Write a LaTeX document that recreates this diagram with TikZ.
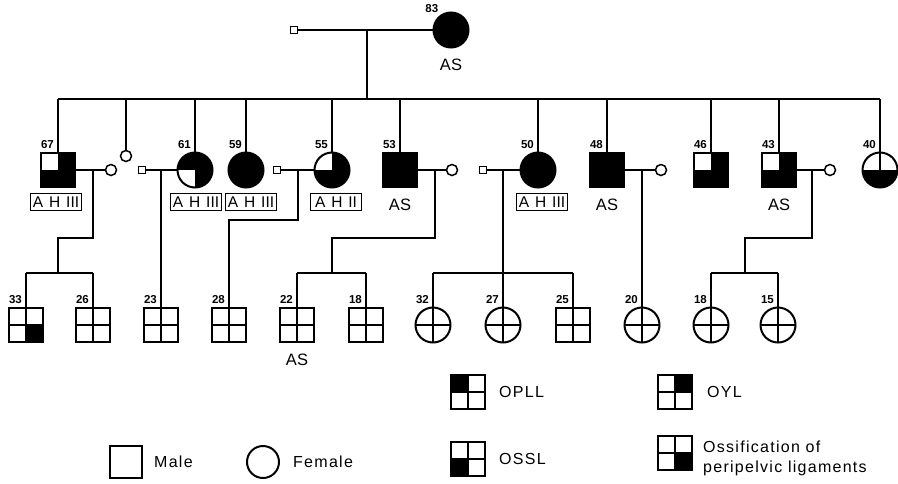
\documentclass[tikz,border=0pt]{standalone}
\usepackage{fontspec}
\setmainfont{Liberation Sans}
\usetikzlibrary{positioning}

\tikzset{
  link/.style={line width=2.4pt},
  male/.style={draw, rectangle, minimum size=34pt, inner sep=0pt, line width=2pt},
  female/.style={draw, circle, minimum size=35pt, inner sep=0pt, line width=2pt},
  smale/.style={draw, rectangle, minimum size=7pt, inner sep=0pt, line width=1.5pt},
  sfemale/.style={draw, circle, minimum size=11pt, inner sep=0pt, line width=1.5pt},
  cross/.style={path picture={
      \fill (path picture bounding box.center) rectangle (path picture bounding box.#1);
      \draw[line width=1.8pt] (path picture bounding box.north) -- (path picture bounding box.south)
        (path picture bounding box.west) -- (path picture bounding box.east);}},
  cross/.default=center,
  hole/.style={fill=black, path picture={
      \fill[white] (path picture bounding box.center) rectangle (path picture bounding box.#1);}},
  halfblk/.style={path picture={
      \fill (path picture bounding box.west) rectangle (path picture bounding box.south east);
      \draw[line width=1.8pt] (path picture bounding box.center) -- (path picture bounding box.north);}},
  age/.style={font=\fontsize{11.5}{11.5}\selectfont\bfseries, inner sep=0pt, anchor=south east},
  note/.style={font=\fontsize{16.5}{16.5}\selectfont, inner sep=1pt},
  ahbox/.style={draw, line width=1.5pt, font={\fontsize{15.5}{15.5}\selectfont\spaceskip=0.38em\relax},
    minimum width=51pt, minimum height=17pt, inner sep=0.5pt},
  key/.style={font={\fontsize{16}{20}\selectfont\addfontfeature{LetterSpace=8}}, inner sep=0pt, align=left}
}

\begin{document}
\begin{tikzpicture}[x=1pt,y=-1pt]
  \useasboundingbox (0,0) rectangle (898,483);
  % first generation
  \node[smale] (f0) at (294,30) {};
  \node[female, fill=black] (p83) at (451,30) {};
  \node[age] (l83) at ([xshift=-2pt,yshift=2pt]p83.125) {83};
  \node[note, below=9pt of p83] (as83) {AS};
  \draw[link] (f0) -- (p83);
  \coordinate (m0) at (367,30);
  \coordinate (s1) at (367,99);
  \draw[link] (m0) -- (s1);

  % second generation
  \node[male, hole=north west] (p67) at (58,170) {};
  \node[sfemale] (w67) at (111,170) {};
  \node[sfemale] (d2) at (126,156) {};
  \node[smale] (h61) at (142,170) {};
  \node[female, hole=south west] (p61) at (195,170) {};
  \node[female, fill=black] (p59) at (246,170) {};
  \node[smale] (h55) at (277,170) {};
  \node[female, hole=north west] (p55) at (332,170) {};
  \node[male, fill=black] (p53) at (400,170) {};
  \node[sfemale] (w53) at (452,170) {};
  \node[smale] (h50) at (483,170) {};
  \node[female, fill=black] (p50) at (538,170) {};
  \node[male, fill=black] (p48) at (607,170) {};
  \node[sfemale] (w48) at (661,170) {};
  \node[male, hole=north west] (p46) at (711,170) {};
  \node[male, hole=north west] (p43) at (779,170) {};
  \node[sfemale] (w43) at (830,170) {};
  \node[female, halfblk] (p40) at (880,170) {};

  \draw[link] (p67 |- s1) -- (p40 |- s1);
  \foreach \n in {p67,d2,p61,p59,p55,p53,p50,p48,p46,p43,p40}
    \draw[link] (\n |- s1) -- (\n);
  % couples
  \draw[link] (p67) -- (w67);
  \draw[link] (h61) -- (p61);
  \draw[link] (h55) -- (p55);
  \draw[link] (p53) -- (w53);
  \draw[link] (h50) -- (p50);
  \draw[link] (p48) -- (w48);
  \draw[link] (p43) -- (w43);

  \node[ahbox] (ah67) at (56,202) {A H III};
  \node[ahbox] (ah61) at (196,202) {A H III};
  \node[ahbox] (ah59) at (251,202) {A H III};
  \node[ahbox] (ah55) at (336,202) {A H II};
  \node[ahbox] (ah50) at (542,202) {A H III};
  \node[note, below=10pt of p53] (as53) {AS};
  \node[note, below=10pt of p48] (as48) {AS};
  \node[note, below=10pt of p43] (as43) {AS};

  % third generation
  \node[male, cross=south east] (c33) at (26,325) {};
  \node[male, cross] (c26) at (93,325) {};
  \node[male, cross] (c23) at (161,325) {};
  \node[male, cross] (c28) at (229,325) {};
  \node[male, cross] (c22) at (297,325) {};
  \node[male, cross] (c18) at (366,325) {};
  \node[female, cross] (c32) at (433,325) {};
  \node[female, cross] (c27) at (503,325) {};
  \node[male, cross] (c25) at (573,325) {};
  \node[female, cross] (c20) at (642,325) {};
  \node[female, cross] (c18b) at (711,325) {};
  \node[female, cross] (c15) at (778,325) {};
  \node[note, below=10pt of c22] (as22) {AS};

  \foreach \n/\a in {p67/67,p61/61,p59/59,p55/55,p53/53,p50/50,p48/48,p46/46,p43/43,p40/40,
      c33/33,c26/26,c23/23,c28/28,c22/22,c18/18,c32/32,c27/27,c25/25,c20/20,c18b/18,c15/15}
    \node[age] (l\n) at ([xshift=-4pt,yshift=3pt]\n.north) {\a};

  % lines of descent
  \coordinate (m67) at (93,170);
  \coordinate (s67) at (58,273);
  \draw[link] (m67) -- ++(0,68) -| (s67);
  \draw[link] (c33 |- s67) -- (c26 |- s67);
  \draw[link] (c33 |- s67) -- (c33);
  \draw[link] (c26 |- s67) -- (c26);

  \coordinate (m61) at (161,170);
  \draw[link] (m61) -- (c23);

  \coordinate (m55) at (298,170);
  \draw[link] (m55) -- ++(0,50) -| (c28);

  \coordinate (m53) at (435,170);
  \coordinate (s53) at (332,273);
  \draw[link] (m53) -- ++(0,68) -| (s53);
  \draw[link] (c22 |- s53) -- (c18 |- s53);
  \draw[link] (c22 |- s53) -- (c22);
  \draw[link] (c18 |- s53) -- (c18);

  \coordinate (m50) at (503,170);
  \coordinate (s50) at (503,273);
  \draw[link] (m50) -- (s50);
  \draw[link] (c32 |- s50) -- (c25 |- s50);
  \foreach \n in {c32,c27,c25}
    \draw[link] (\n |- s50) -- (\n);

  \coordinate (m48) at (642,170);
  \draw[link] (m48) -- (c20);

  \coordinate (m43) at (812,170);
  \coordinate (s43) at (745,273);
  \draw[link] (m43) -- ++(0,68) -| (s43);
  \draw[link] (c18b |- s43) -- (c15 |- s43);
  \draw[link] (c18b |- s43) -- (c18b);
  \draw[link] (c15 |- s43) -- (c15);

  % key
  \node[male, minimum size=32pt] (kmale) at (126,462) {};
  \node[key, right=11pt of kmale] (tmale) {Male};
  \node[female, minimum size=32pt] (kfemale) at (263,462) {};
  \node[key, right=13pt of kfemale] (tfemale) {Female};
  \node[male, cross=north west] (kopll) at (468,392) {};
  \node[key, right=13pt of kopll] (topll) {OPLL};
  \node[male, cross=south west] (kossl) at (468,459) {};
  \node[key, right=13pt of kossl] (tossl) {OSSL};
  \node[male, cross=north east] (koyl) at (675,392) {};
  \node[key, right=14pt of koyl] (toyl) {OYL};
  \node[male, cross=south east] (kperi) at (675,453) {};
  \node[key, right=10pt of kperi, yshift=-5pt] (tperi) {Ossification of\\peripelvic ligaments};
\end{tikzpicture}
\end{document}
